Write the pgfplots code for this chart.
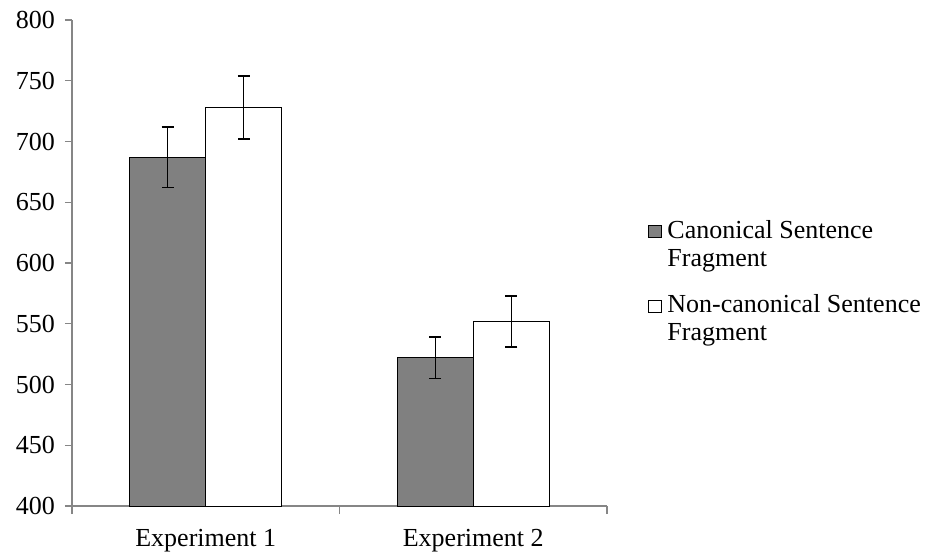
\documentclass[border=0pt]{standalone}
\usepackage{pgfplots}
\pgfplotsset{compat=1.18}
\usepackage{fontspec}
\setmainfont{Liberation Serif}
\definecolor{axgray}{RGB}{134,134,134}
\definecolor{bargray}{RGB}{128,128,128}

\begin{document}
\fontsize{13pt}{14pt}\selectfont
\begin{tikzpicture}
\useasboundingbox (-36pt,-23.65pt) rectangle (429.5pt,253pt);
\begin{axis}[
    at={(0,0)}, anchor=south west,
    scale only axis, width=267.5pt, height=243pt,
    ymin=400, ymax=800,
    ytick={400,450,...,800},
    xmin=-0.5, xmax=1.5,
    xtick={0,1},
    xticklabels={Experiment 1, Experiment 2},
    minor xtick={-0.5,0.5,1.5},
    major x tick style={draw=none},
    axis x line*=bottom, axis y line*=left,
    axis line style={axgray, line width=0.6pt},
    tick style={axgray, line width=0.6pt},
    tick align=outside,
    major tick length=3.5pt, minor tick length=4pt,
    ticklabel style={font=\fontsize{13pt}{14pt}\selectfont},
    yticklabel style={xshift=-0.5pt},
    xticklabel style={yshift=-3.5pt},
    /pgf/number format/assume math mode=true,
    ybar, bar width=0.285,
    legend cell align=left,
    legend style={at={(1.064,0.46)}, anchor=west, draw=none, fill=none,
        row sep=8.5pt,
        nodes={align=left, font=\fontsize{13pt}{14pt}\selectfont, inner xsep=3pt}},
    legend image code/.code={\draw[#1, line width=0.4pt] (0pt,4pt) rectangle (6.5pt,10pt);},
]
\addplot[fill=bargray, draw=black, line width=0.5pt, bar shift=-0.1425,
    error bars/.cd, y dir=both, y explicit,
    error bar style={line width=0.6pt, black},
    error mark options={rotate=90, mark size=3pt, line width=0.7pt, black}]
    coordinates {(0,687) +- (0,25) (1,522) +- (0,17)};
\addplot[fill=white, draw=black, line width=0.5pt, bar shift=0.1425,
    error bars/.cd, y dir=both, y explicit,
    error bar style={line width=0.6pt, black},
    error mark options={rotate=90, mark size=3pt, line width=0.7pt, black}]
    coordinates {(0,728) +- (0,26) (1,552) +- (0,21)};
\legend{Canonical Sentence\\Fragment, Non-canonical Sentence\\Fragment}
\end{axis}
\end{tikzpicture}
\end{document}
